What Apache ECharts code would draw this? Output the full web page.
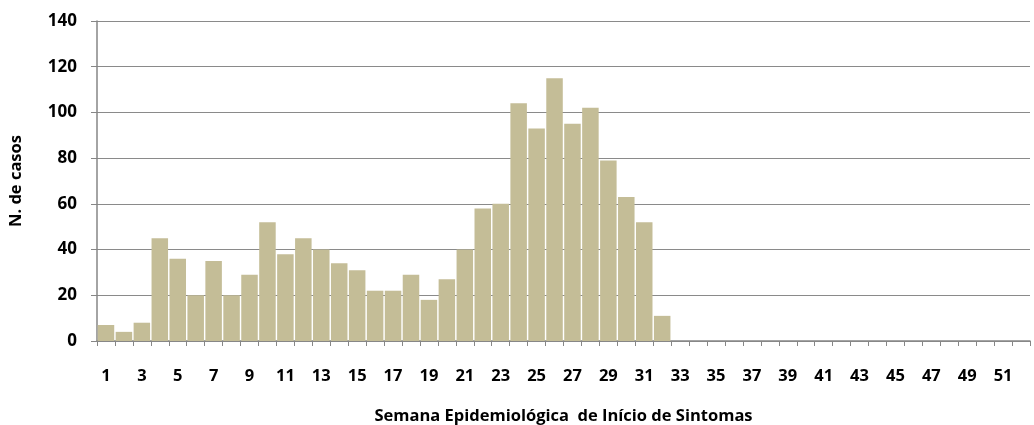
<!DOCTYPE html>
<html>
<head>
<meta charset="utf-8">
<script src="https://cdn.jsdelivr.net/npm/echarts@6/dist/echarts.min.js"></script>
<style>
html,body{margin:0;padding:0;background:#fff;overflow:hidden;}
#chart{width:1034px;height:425px;}
</style>
</head>
<body>
<div id="chart"></div>
<script>
const weeks = Array.from({length: 52}, (_, i) => String(i + 1));
const cases = [7, 4, 8, 45, 36, 20, 35, 20, 29, 52, 38, 45, 40, 34, 31, 22, 22, 29, 18, 27,
  40, 58, 60, 104, 93, 115, 95, 102, 79, 63, 52, 11,
  0, 0, 0, 0, 0, 0, 0, 0, 0, 0, 0, 0, 0, 0, 0, 0, 0, 0, 0, 0];
const yTitle = 'N. de casos';
const xTitle = 'Semana Epidemiológica  de Início de Sintomas';

const font = '"Open Sans", "Noto Sans", sans-serif';
const chart = echarts.init(document.getElementById('chart'));
chart.setOption({
  animation: false,
  grid: {left: 97, right: 4, top: 21, bottom: 84, containLabel: false, outerBoundsMode: 'none'},
  xAxis: {
    type: 'category',
    data: weeks,
    boundaryGap: true,
    name: xTitle,
    nameLocation: 'middle',
    nameGap: 67,
    nameTextStyle: {color: '#000', fontWeight: 'bold', fontSize: 16.5, fontFamily: font},
    axisLine: {lineStyle: {color: '#868686', width: 1.5}},
    axisTick: {show: true, interval: 0, length: 5, lineStyle: {color: '#868686'}},
    axisLabel: {interval: 1, color: '#000', fontWeight: 'bold', fontSize: 16.5, fontFamily: font, margin: 27}
  },
  yAxis: {
    type: 'value',
    min: 0, max: 140, interval: 20,
    name: yTitle,
    nameLocation: 'middle',
    nameGap: 72,
    nameRotate: 90,
    nameTextStyle: {color: '#000', fontWeight: 'bold', fontSize: 16.5, fontFamily: font},
    axisLine: {show: true, lineStyle: {color: '#868686', width: 1.5}},
    axisTick: {show: true, length: 6, lineStyle: {color: '#868686'}},
    splitLine: {show: true, lineStyle: {color: '#8a8a8a', width: 1.2}},
    axisLabel: {color: '#000', fontWeight: 'bold', fontSize: 17, fontFamily: font, margin: 20}
  },
  series: [{
    type: 'bar',
    data: cases,
    barCategoryGap: '8%',
    itemStyle: {color: '#C4BD97'}
  }]
});
</script>
</body>
</html>
